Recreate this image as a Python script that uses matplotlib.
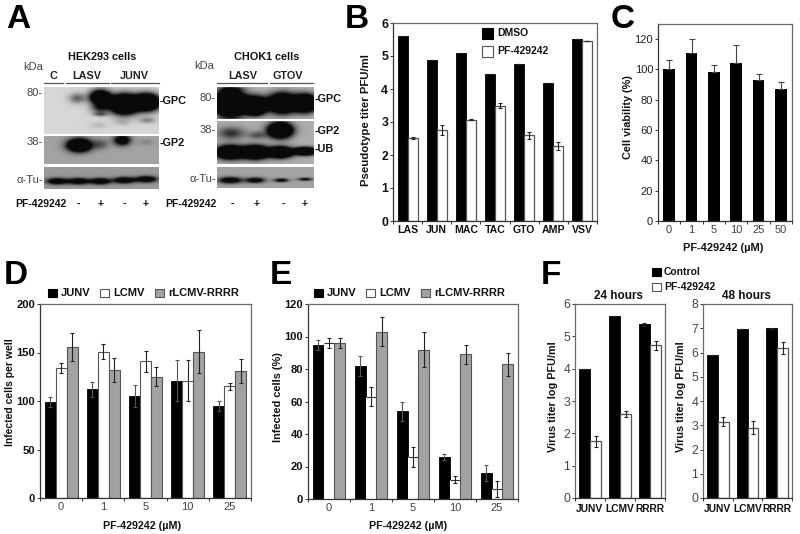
import numpy as np
import matplotlib
matplotlib.use("Agg")
import matplotlib.pyplot as plt
from matplotlib.patches import Rectangle

plt.rcParams['font.family'] = ['Liberation Sans', 'DejaVu Sans']

W, H = 800, 534
TXT = '#111111'
GREY_TXT = '#444444'
FRAME = '#6a6a6a'
BAR_GREY = '#a3a3a3'

# panel B
b_labels = ['LAS', 'JUN', 'MAC', 'TAC', 'GTO', 'AMP', 'VSV']
b_dmso = [5.6, 4.88, 5.08, 4.46, 4.76, 4.17, 5.53]
b_pf = [2.53, 2.75, 3.07, 3.5, 2.6, 2.28, 5.45]
b_pf_err = [0.03, 0.15, 0.02, 0.08, 0.1, 0.12, 0.0]

# panel C
c_labels = ['0', '1', '5', '10', '25', '50']
c_viab = [100, 111, 98, 104, 93, 87]
c_err = [6, 9, 5, 12, 4, 5]

# panels D and E
dose_labels = ['0', '1', '5', '10', '25']
d_junv = [99, 112, 105, 121, 95]
d_lcmv = [134, 151, 141, 121, 115]
d_rrrr = [156, 132, 125, 151, 131]
d_junv_err = [5, 8, 11, 21, 5]
d_lcmv_err = [5.5, 8, 11, 21, 4]
d_rrrr_err = [14.5, 12, 10, 22.5, 12]

e_junv = [95, 82, 54, 26, 16]
e_lcmv = [96, 63, 26, 12, 6]
e_rrrr = [96, 103, 92, 89, 83]
e_junv_err = [3, 6, 6, 2, 5]
e_lcmv_err = [3, 6, 6, 2, 5]
e_rrrr_err = [3, 9, 11, 6, 7]

# panel F
f_labels = ['JUNV', 'LCMV', 'RRRR']
f24_ctrl = [4.0, 5.62, 5.37]
f24_pf = [1.75, 2.6, 4.72]
f24_ctrl_err = [0, 0, 0.05]
f24_pf_err = [0.17, 0.1, 0.15]
f48_ctrl = [5.9, 6.95, 7.0]
f48_pf = [3.15, 2.9, 6.2]
f48_ctrl_err = [0, 0, 0.03]
f48_pf_err = [0.18, 0.27, 0.25]

# panel A blots: (centre x, centre y, width x, width y, strength)
hek_top = [(124, 104, 13, 9, 2.6), (147, 102, 12, 8, 2.2), (100, 97, 10, 7, 1.8),
           (100, 108, 9, 5, 0.6), (77, 98, 8, 5, 0.45), (100, 114, 7, 2, 0.4),
           (147, 120, 8, 3, 0.3), (122, 122, 8, 3, 0.15), (98, 125, 8, 3, 0.12)]
hek_mid = [(79, 145, 11, 6, 1.8), (100, 144, 8, 5, 0.3), (122, 140, 8, 5, 1.0),
           (146, 142, 7, 3, 0.12)]
hek_tub = [(57, 181, 10, 3, 1.0), (78, 181, 10, 3, 1.0), (100, 181, 10, 3, 1.0),
           (124, 180, 10, 3, 1.0), (146, 179, 10, 3, 1.0)]
cho_top = [(230, 103, 14, 12, 2.6), (255, 105, 11, 8, 2.0), (282, 103, 13, 9, 2.2),
           (305, 103, 11, 8, 2.2), (232, 89, 10, 1.5, 0.4), (255, 113, 8, 3, 0.4)]
cho_mid = [(231, 133, 13, 6, 0.5), (257, 135, 9, 4, 0.35), (280, 130, 11, 7, 2.2),
           (230, 152, 13, 6, 2.2), (255, 152, 12, 6, 2.2), (280, 152, 11, 5, 2.2),
           (305, 151, 10, 3.5, 2.2)]
cho_tub = [(230, 180, 11, 3, 1.0), (255, 180, 9, 2.6, 0.9), (281, 180, 7, 1.8, 0.8),
           (305, 179, 7, 1.5, 0.7)]

fig = plt.figure(figsize=(W / 100, H / 100), dpi=100)


def px_axes(left, top, right, bottom):
    return fig.add_axes([left / W, 1 - bottom / H, (right - left) / W, (bottom - top) / H])


def style_axes(ax, labels, ymax, yticks, frame=FRAME, ybold=True, xbold=True, ycolor=TXT,
               xcolor=TXT, fs=8, yfs=None, xpad=2):
    n = len(labels)
    ax.set_xlim(0, n)
    ax.set_ylim(0, ymax)
    ax.set_xticks(np.arange(n + 1))
    ax.set_xticklabels([])
    ax.set_xticks(np.arange(n) + 0.5, minor=True)
    ax.set_xticklabels(labels, minor=True, fontsize=fs, color=xcolor,
                       fontweight='bold' if xbold else 'normal')
    ax.tick_params(axis='x', which='minor', length=0, pad=xpad)
    ax.tick_params(axis='x', which='major', length=2, width=0.7, color='#333333')
    ax.set_yticks(yticks)
    ax.set_yticklabels([str(t) for t in yticks], fontsize=yfs or fs, color=ycolor,
                       fontweight='bold' if ybold else 'normal')
    ax.tick_params(axis='y', length=2, width=0.7, pad=1.5, color='#333333')
    ax.spines['top'].set_color(frame)
    ax.spines['right'].set_color(frame)
    ax.spines['left'].set_color('#333333')
    ax.spines['bottom'].set_color('#333333')
    for s in ax.spines.values():
        s.set_linewidth(0.9)


def errs(ax, x, y, e, color='#222222', cap=1.6):
    ax.errorbar(x, y, yerr=e, fmt='none', ecolor=color, elinewidth=0.8, capsize=cap,
                capthick=0.8, zorder=5)


def draw_three(ax, j, l, r, j_e, l_e, r_e, white_edge=True):
    x = np.arange(len(j)) + 0.5
    w = 0.26
    ax.bar(x - w, j, w, color='black', edgecolor='black', linewidth=0.6)
    if white_edge:
        ax.bar(x, l, w, color='white', edgecolor='#555555', linewidth=0.8)
    else:
        ax.bar(x, l, w, color='white', edgecolor='none')
        ax.hlines(l, x - w / 2, x + w / 2, color='#333333', linewidth=0.8, zorder=4)
    ax.bar(x + w, r, w, color=BAR_GREY, edgecolor='#555555', linewidth=0.8)
    errs(ax, x - w, j, j_e, color='#555555')
    errs(ax, x, l, l_e)
    errs(ax, x + w, r, r_e)


def draw_two(ax, a, b, a_e, b_e, w):
    x = np.arange(len(a)) + 0.5
    ax.bar(x - w / 2, a, w, color='black', edgecolor='black', linewidth=0.6)
    ax.bar(x + w / 2, b, w, color='white', edgecolor='#555555', linewidth=0.9)
    errs(ax, x - w / 2, a, a_e)
    errs(ax, x + w / 2, b, b_e)


# B
ax = px_axes(393, 23, 597, 221)
draw_two(ax, b_dmso, b_pf, [0] * 7, b_pf_err, 0.345)
style_axes(ax, b_labels, 6, [0, 1, 2, 3, 4, 5, 6], fs=7.6, yfs=8.8, xpad=3)

# C
ax = px_axes(658, 24, 792, 221)
cx = np.arange(len(c_viab)) + 0.5
ax.bar(cx, c_viab, 0.52, color='black')
ax.errorbar(cx, c_viab, yerr=[[0] * 6, c_err], fmt='none', ecolor='#444444', elinewidth=0.8,
            capsize=2, capthick=0.8)
style_axes(ax, c_labels, 130, [0, 20, 40, 60, 80, 100, 120], ybold=False, xbold=False,
           ycolor='#222222', xcolor=GREY_TXT, xpad=3)

# D
ax = px_axes(40, 304, 251, 498)
draw_three(ax, d_junv, d_lcmv, d_rrrr, d_junv_err, d_lcmv_err, d_rrrr_err)
style_axes(ax, dose_labels, 200, [0, 50, 100, 150, 200], xbold=False, xcolor=GREY_TXT, xpad=3)

# E
ax = px_axes(308, 304, 518, 499)
draw_three(ax, e_junv, e_lcmv, e_rrrr, e_junv_err, e_lcmv_err, e_rrrr_err, white_edge=False)
style_axes(ax, dose_labels, 120, [0, 20, 40, 60, 80, 100, 120], xbold=False, xcolor=GREY_TXT,
           xpad=3)

# F
ax = px_axes(575, 304, 665, 498)
draw_two(ax, f24_ctrl, f24_pf, f24_ctrl_err, f24_pf_err, 0.367)
style_axes(ax, f_labels, 6, [0, 1, 2, 3, 4, 5, 6], ybold=False, ycolor=GREY_TXT, fs=7.4, yfs=8.8,
           xpad=4)
ax.spines['left'].set_color(FRAME)

ax = px_axes(703, 304, 792, 498)
draw_two(ax, f48_ctrl, f48_pf, f48_ctrl_err, f48_pf_err, 0.367)
style_axes(ax, f_labels, 8, [0, 1, 2, 3, 4, 5, 6, 7, 8], ybold=False, ycolor=GREY_TXT, fs=7.4,
           yfs=8.8, xpad=4)
ax.spines['left'].set_color(FRAME)

# overlay in pixel coordinates for panel A, legends and free text
ov = fig.add_axes([0, 0, 1, 1], zorder=10)
ov.patch.set_alpha(0)


def put(x, y, s, size=7.5, bold=True, color=TXT, ha='center', rot=0):
    ov.text(x, y, s, fontsize=size, fontweight='bold' if bold else 'normal', color=color,
            ha=ha, va='center', rotation=rot)


def blot(x0, y0, x1, y1, bands, bg):
    xs, ys = np.meshgrid(np.arange(x0, x1, 0.5), np.arange(y0, y1, 0.5))
    dark = np.zeros_like(xs)
    for bx, by, wx, wy, s in bands:
        dark += s * np.exp(-((xs - bx) / wx) ** 2 - ((ys - by) / wy) ** 2)
    img = np.clip(bg - dark, 0.04, 1)
    ov.imshow(img, extent=(x0, x1, y1, y0), cmap='gray', vmin=0, vmax=1, aspect='auto',
              interpolation='bilinear', zorder=1)


blot(44, 87, 159, 134, hek_top, 0.84)
blot(44, 136, 159, 164, hek_mid, 0.64)
blot(44, 167, 159, 189, hek_tub, 0.6)
blot(217, 87, 314, 119, cho_top, 0.72)
blot(217, 121, 314, 164, cho_mid, 0.68)
blot(217, 167, 314, 188, cho_tub, 0.64)
ov.set_xlim(0, W)
ov.set_ylim(H, 0)
ov.axis('off')

# panel letters
for lx, ly, letter in [(18, 20, 'A'), (357, 20, 'B'), (623, 20, 'C'), (16, 275, 'D'),
                       (281, 275, 'E'), (551, 275, 'F')]:
    put(lx, ly, letter, size=24, color='black')

# panel A text
put(102, 57, 'HEK293 cells', size=7.8)
put(267, 57, 'CHOK1 cells', size=7.8)
put(33, 67, 'kDa', size=8, bold=False, color=GREY_TXT)
put(204, 66, 'kDa', size=8, bold=False, color=GREY_TXT)
for tx, s in [(53, 'C'), (87, 'LASV'), (134, 'JUNV'), (243, 'LASV'), (288, 'GTOV')]:
    put(tx, 76, s, size=7.8, color='#222222')
for xa, xb in [(44, 63), (66, 109), (111, 159), (217, 267), (270, 313)]:
    ov.plot([xa, xb], [83, 83], color='#555555', lw=0.9)
for tx, ty, s in [(43, 93, '80-'), (43, 142, '38-'), (43, 180, 'α-Tu-'),
                  (216, 98, '80-'), (216, 130, '38-'), (216, 179, 'α-Tu-')]:
    put(tx, ty, s, size=8, bold=False, color=GREY_TXT, ha='right')
for tx, ty, s in [(160, 101, '-GPC'), (160, 143, '-GP2'), (315, 99, '-GPC'),
                  (315, 131, '-GP2'), (315, 149, '-UB')]:
    put(tx, ty, s, size=7.8, ha='left')
put(15, 204, 'PF-429242', ha='left')
put(165, 204, 'PF-429242', ha='left')
for tx, s in [(78, '-'), (101, '+'), (124, '-'), (146, '+'),
              (232, '-'), (257, '+'), (283, '-'), (305, '+')]:
    put(tx, 204, s)

# axis labels
put(366, 120, 'Pseudotype titer PFU/ml', size=8.2, rot=90)
put(628, 117, 'Cell viability (%)', size=7.8, rot=90)
put(10, 392, 'Infected cells per well', rot=90)
put(278, 397, 'Infected cells (%)', size=7.9, rot=90)
put(553, 397, 'Virus titer log PFU/ml', size=7.8, rot=90)
put(681, 397, 'Virus titer log PFU/ml', size=7.8, rot=90)
put(723, 248, 'PF-429242 (µM)', size=7.9)
put(142, 526, 'PF-429242 (µM)', size=7.7)
put(408, 526, 'PF-429242 (µM)', size=7.7)
put(618, 296, '24 hours', size=8.5)
put(746, 296, '48 hours', size=8.5)


def key(x, y, size, color, edge, label, text_x, fs=7.5):
    ov.add_patch(Rectangle((x, y - size / 2), size, size, facecolor=color, edgecolor=edge, lw=0.8))
    put(text_x, y, label, ha='left', size=fs)


key(482, 33, 11, 'black', 'black', 'DMSO', 497)
key(482, 51, 11, 'white', '#555555', 'PF-429242', 497)
key(48, 293, 8.5, 'black', 'black', 'JUNV', 61, fs=8)
key(100, 293, 8.5, 'white', '#555555', 'LCMV', 113, fs=8)
key(155, 293, 8.5, BAR_GREY, '#555555', 'rLCMV-RRRR', 168, fs=8)
key(314, 293, 8.5, 'black', 'black', 'JUNV', 327, fs=8)
key(366, 293, 8.5, 'white', '#555555', 'LCMV', 379, fs=8)
key(421, 293, 8.5, BAR_GREY, '#555555', 'rLCMV-RRRR', 434, fs=8)
key(652, 272, 8.5, 'black', 'black', 'Control', 664)
key(652, 287, 8.5, 'white', '#555555', 'PF-429242', 664)

fig.savefig('out.png', dpi=100)
